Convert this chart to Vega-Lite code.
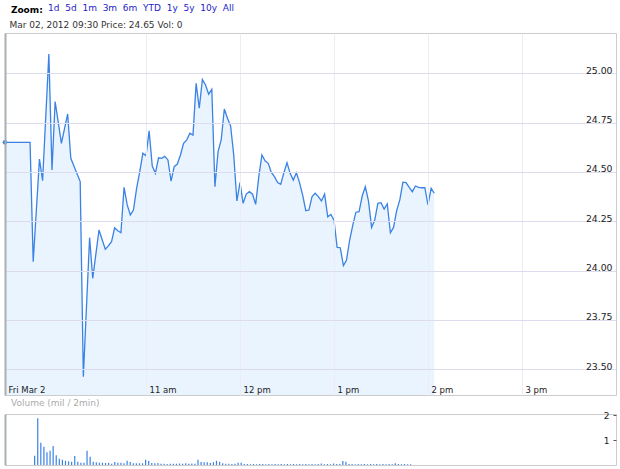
{
  "$schema": "https://vega.github.io/schema/vega-lite/v6.json",
  "padding": {"left": 1, "top": 3, "right": 4, "bottom": 4},
  "background": "#ffffff",
  "spacing": 2,
  "title": {
    "text": "Zoom:",
    "subtitle": "\u2060\u00a0\u00a0\u00a0\u00a0\u00a0\u00a0\u00a0\u00a0\u00a0\u00a0\u00a0\u00a0\u00a01d\u00a0\u00a05d\u00a0\u00a01m\u00a0\u00a03m\u00a0\u00a06m\u00a0\u00a0YTD\u00a0\u00a01y\u00a0\u00a05y\u00a0\u00a010y\u00a0\u00a0All",
    "anchor": "start",
    "dx": 9,
    "fontSize": 9,
    "fontWeight": "bold",
    "color": "#000000",
    "subtitleFontSize": 9,
    "subtitleFontWeight": "normal",
    "subtitleColor": "#2323c8",
    "subtitlePadding": -11,
    "offset": 4
  },
  "config": {
    "font": "DejaVu Sans",
    "view": {"stroke": "#cccccc"},
    "axis": {"labelFont": "DejaVu Sans", "titleFont": "DejaVu Sans"},
    "title": {"font": "DejaVu Sans", "subtitleFont": "DejaVu Sans"}
  },
  "vconcat": [
    {
      "width": 611,
      "height": 362,
      "title": {
        "text": "Mar 02, 2012 09:30 Price: 24.65 Vol: 0",
        "anchor": "start",
        "dx": 7,
        "fontSize": 9,
        "fontWeight": "normal",
        "color": "#333333",
        "offset": 3
      },
      "data": {
        "values": [
          {"t": "2012-03-02T09:30:00", "p": 24.65},
          {"t": "2012-03-02T09:46:00", "p": 24.65},
          {"t": "2012-03-02T09:48:00", "p": 24.045},
          {"t": "2012-03-02T09:52:00", "p": 24.565},
          {"t": "2012-03-02T09:54:00", "p": 24.456},
          {"t": "2012-03-02T09:58:00", "p": 25.098},
          {"t": "2012-03-02T10:00:00", "p": 24.51},
          {"t": "2012-03-02T10:02:00", "p": 24.856},
          {"t": "2012-03-02T10:06:00", "p": 24.645},
          {"t": "2012-03-02T10:10:00", "p": 24.794},
          {"t": "2012-03-02T10:12:00", "p": 24.569},
          {"t": "2012-03-02T10:18:00", "p": 24.451},
          {"t": "2012-03-02T10:20:00", "p": 23.462},
          {"t": "2012-03-02T10:24:00", "p": 24.167},
          {"t": "2012-03-02T10:26:00", "p": 23.961},
          {"t": "2012-03-02T10:30:00", "p": 24.206},
          {"t": "2012-03-02T10:34:00", "p": 24.108},
          {"t": "2012-03-02T10:36:00", "p": 24.125},
          {"t": "2012-03-02T10:38:00", "p": 24.147},
          {"t": "2012-03-02T10:40:00", "p": 24.217},
          {"t": "2012-03-02T10:42:00", "p": 24.202},
          {"t": "2012-03-02T10:44:00", "p": 24.192},
          {"t": "2012-03-02T10:46:00", "p": 24.422},
          {"t": "2012-03-02T10:48:00", "p": 24.333},
          {"t": "2012-03-02T10:50:00", "p": 24.282},
          {"t": "2012-03-02T10:52:00", "p": 24.307},
          {"t": "2012-03-02T10:54:00", "p": 24.417},
          {"t": "2012-03-02T10:56:00", "p": 24.501},
          {"t": "2012-03-02T10:58:00", "p": 24.595},
          {"t": "2012-03-02T11:00:00", "p": 24.582},
          {"t": "2012-03-02T11:02:00", "p": 24.708},
          {"t": "2012-03-02T11:04:00", "p": 24.53},
          {"t": "2012-03-02T11:06:00", "p": 24.493},
          {"t": "2012-03-02T11:08:00", "p": 24.572},
          {"t": "2012-03-02T11:10:00", "p": 24.569},
          {"t": "2012-03-02T11:12:00", "p": 24.579},
          {"t": "2012-03-02T11:14:00", "p": 24.561},
          {"t": "2012-03-02T11:16:00", "p": 24.453},
          {"t": "2012-03-02T11:18:00", "p": 24.527},
          {"t": "2012-03-02T11:20:00", "p": 24.54},
          {"t": "2012-03-02T11:22:00", "p": 24.586},
          {"t": "2012-03-02T11:24:00", "p": 24.645},
          {"t": "2012-03-02T11:26:00", "p": 24.662},
          {"t": "2012-03-02T11:28:00", "p": 24.696},
          {"t": "2012-03-02T11:30:00", "p": 24.687},
          {"t": "2012-03-02T11:32:00", "p": 24.949},
          {"t": "2012-03-02T11:34:00", "p": 24.823},
          {"t": "2012-03-02T11:36:00", "p": 24.968},
          {"t": "2012-03-02T11:38:00", "p": 24.941},
          {"t": "2012-03-02T11:40:00", "p": 24.894},
          {"t": "2012-03-02T11:42:00", "p": 24.919},
          {"t": "2012-03-02T11:44:00", "p": 24.425},
          {"t": "2012-03-02T11:46:00", "p": 24.603},
          {"t": "2012-03-02T11:48:00", "p": 24.662},
          {"t": "2012-03-02T11:50:00", "p": 24.819},
          {"t": "2012-03-02T11:52:00", "p": 24.772},
          {"t": "2012-03-02T11:54:00", "p": 24.733},
          {"t": "2012-03-02T11:56:00", "p": 24.586},
          {"t": "2012-03-02T11:58:00", "p": 24.353},
          {"t": "2012-03-02T12:00:00", "p": 24.446},
          {"t": "2012-03-02T12:02:00", "p": 24.341},
          {"t": "2012-03-02T12:04:00", "p": 24.388},
          {"t": "2012-03-02T12:06:00", "p": 24.4},
          {"t": "2012-03-02T12:08:00", "p": 24.387},
          {"t": "2012-03-02T12:10:00", "p": 24.336},
          {"t": "2012-03-02T12:12:00", "p": 24.476},
          {"t": "2012-03-02T12:14:00", "p": 24.586},
          {"t": "2012-03-02T12:16:00", "p": 24.557},
          {"t": "2012-03-02T12:18:00", "p": 24.544},
          {"t": "2012-03-02T12:20:00", "p": 24.498},
          {"t": "2012-03-02T12:22:00", "p": 24.476},
          {"t": "2012-03-02T12:24:00", "p": 24.446},
          {"t": "2012-03-02T12:26:00", "p": 24.437},
          {"t": "2012-03-02T12:28:00", "p": 24.496},
          {"t": "2012-03-02T12:30:00", "p": 24.547},
          {"t": "2012-03-02T12:32:00", "p": 24.493},
          {"t": "2012-03-02T12:34:00", "p": 24.459},
          {"t": "2012-03-02T12:36:00", "p": 24.496},
          {"t": "2012-03-02T12:38:00", "p": 24.446},
          {"t": "2012-03-02T12:40:00", "p": 24.383},
          {"t": "2012-03-02T12:42:00", "p": 24.304},
          {"t": "2012-03-02T12:44:00", "p": 24.307},
          {"t": "2012-03-02T12:46:00", "p": 24.375},
          {"t": "2012-03-02T12:48:00", "p": 24.392},
          {"t": "2012-03-02T12:50:00", "p": 24.375},
          {"t": "2012-03-02T12:52:00", "p": 24.353},
          {"t": "2012-03-02T12:54:00", "p": 24.388},
          {"t": "2012-03-02T12:56:00", "p": 24.273},
          {"t": "2012-03-02T12:58:00", "p": 24.285},
          {"t": "2012-03-02T13:00:00", "p": 24.256},
          {"t": "2012-03-02T13:02:00", "p": 24.118},
          {"t": "2012-03-02T13:04:00", "p": 24.116},
          {"t": "2012-03-02T13:06:00", "p": 24.025},
          {"t": "2012-03-02T13:08:00", "p": 24.054},
          {"t": "2012-03-02T13:10:00", "p": 24.155},
          {"t": "2012-03-02T13:12:00", "p": 24.231},
          {"t": "2012-03-02T13:14:00", "p": 24.296},
          {"t": "2012-03-02T13:16:00", "p": 24.299},
          {"t": "2012-03-02T13:18:00", "p": 24.378},
          {"t": "2012-03-02T13:20:00", "p": 24.425},
          {"t": "2012-03-02T13:22:00", "p": 24.353},
          {"t": "2012-03-02T13:24:00", "p": 24.219},
          {"t": "2012-03-02T13:26:00", "p": 24.256},
          {"t": "2012-03-02T13:28:00", "p": 24.341},
          {"t": "2012-03-02T13:30:00", "p": 24.344},
          {"t": "2012-03-02T13:32:00", "p": 24.312},
          {"t": "2012-03-02T13:34:00", "p": 24.338},
          {"t": "2012-03-02T13:36:00", "p": 24.192},
          {"t": "2012-03-02T13:38:00", "p": 24.219},
          {"t": "2012-03-02T13:40:00", "p": 24.304},
          {"t": "2012-03-02T13:42:00", "p": 24.358},
          {"t": "2012-03-02T13:44:00", "p": 24.448},
          {"t": "2012-03-02T13:46:00", "p": 24.446},
          {"t": "2012-03-02T13:48:00", "p": 24.422},
          {"t": "2012-03-02T13:50:00", "p": 24.4},
          {"t": "2012-03-02T13:52:00", "p": 24.429},
          {"t": "2012-03-02T13:54:00", "p": 24.422},
          {"t": "2012-03-02T13:56:00", "p": 24.42},
          {"t": "2012-03-02T13:58:00", "p": 24.42},
          {"t": "2012-03-02T14:00:00", "p": 24.333},
          {"t": "2012-03-02T14:02:00", "p": 24.417},
          {"t": "2012-03-02T14:04:00", "p": 24.392}
        ],
        "format": {"parse": {"t": "date"}}
      },
      "resolve": {"axis": {"y": "independent"}},
      "layer": [
        {
          "mark": {"type": "area", "color": "#eaf4fe", "opacity": 1, "clip": true},
          "encoding": {
            "x": {
              "field": "t", "type": "temporal",
              "scale": {"domain": [
                {"year": 2012, "month": 3, "date": 2, "hours": 9, "minutes": 30},
                {"year": 2012, "month": 3, "date": 2, "hours": 16, "minutes": 0}
              ]},
              "axis": {
                "title": null,
                "orient": "bottom",
                "zindex": 1,
                "values": [
                  {"year": 2012, "month": 3, "date": 2, "hours": 9, "minutes": 30},
                  {"year": 2012, "month": 3, "date": 2, "hours": 11},
                  {"year": 2012, "month": 3, "date": 2, "hours": 12},
                  {"year": 2012, "month": 3, "date": 2, "hours": 13},
                  {"year": 2012, "month": 3, "date": 2, "hours": 14},
                  {"year": 2012, "month": 3, "date": 2, "hours": 15}
                ],
                "labelExpr": "hours(datum.value) == 9 ? 'Fri Mar 2' : ((hours(datum.value) % 12 == 0 ? 12 : hours(datum.value) % 12) + (hours(datum.value) < 12 ? ' am' : ' pm'))",
                "labelAlign": "left",
                "labelBaseline": "alphabetic",
                "labelPadding": -3,
                "labelOffset": 3,
                "labelFontSize": 8.5,
                "labelColor": "#222222",
                "labelFlush": false,
                "labelOverlap": false,
                "ticks": false,
                "domain": false,
                "grid": true,
                "gridColor": "#ececf2",
                "gridOpacity": {"condition": {"test": "hours(datum.value) == 9", "value": 0}, "value": 1}
              }
            },
            "y": {
              "field": "p", "type": "quantitative",
              "scale": {"domain": [23.3695, 25.2043], "nice": false, "zero": false},
              "axis": {
                "orient": "left", "title": null, "labels": false, "ticks": false, "grid": false,
                "zindex": 2,
                "domain": true, "domainColor": "#a9b0b0", "domainWidth": 2
              }
            }
          }
        },
        {
          "mark": {"type": "line", "color": "#3a82e4", "strokeWidth": 1.3},
          "encoding": {
            "x": {"field": "t", "type": "temporal"},
            "y": {
              "field": "p", "type": "quantitative",
              "axis": {
                "orient": "right", "title": null, "zindex": 1,
                "values": [23.5, 23.75, 24, 24.25, 24.5, 24.75, 25],
                "format": ".2f",
                "labelAlign": "right",
                "labelBaseline": "alphabetic",
                "labelPadding": -4,
                "labelDy": -1,
                "labelFontSize": 9.3,
                "labelColor": "#222222",
                "ticks": false,
                "domain": false,
                "grid": true,
                "gridColor": "#dcdcee"
              }
            }
          }
        },
        {
          "transform": [{"filter": "hours(datum.t) == 9 && minutes(datum.t) == 30"}],
          "mark": {"type": "point", "filled": true, "color": "#3a82e4", "size": 22, "opacity": 1},
          "encoding": {
            "x": {"field": "t", "type": "temporal"},
            "y": {"field": "p", "type": "quantitative", "axis": null}
          }
        }
      ]
    },
    {
      "width": 611,
      "height": 51,
      "title": {
        "text": "Volume (mil / 2min)",
        "anchor": "start",
        "dx": 6,
        "fontSize": 9,
        "fontWeight": "normal",
        "color": "#aaaaaa",
        "offset": 3
      },
      "data": {
        "values": [
          {"t": "2012-03-02T09:46:00", "v": 0.37},
          {"t": "2012-03-02T09:48:00", "v": 1.87},
          {"t": "2012-03-02T09:50:00", "v": 0.89},
          {"t": "2012-03-02T09:52:00", "v": 0.73},
          {"t": "2012-03-02T09:54:00", "v": 0.51},
          {"t": "2012-03-02T09:56:00", "v": 0.57},
          {"t": "2012-03-02T09:58:00", "v": 0.76},
          {"t": "2012-03-02T10:00:00", "v": 0.39},
          {"t": "2012-03-02T10:02:00", "v": 0.25},
          {"t": "2012-03-02T10:04:00", "v": 0.21},
          {"t": "2012-03-02T10:06:00", "v": 0.17},
          {"t": "2012-03-02T10:08:00", "v": 0.15},
          {"t": "2012-03-02T10:10:00", "v": 0.13},
          {"t": "2012-03-02T10:12:00", "v": 0.36},
          {"t": "2012-03-02T10:14:00", "v": 0.13},
          {"t": "2012-03-02T10:16:00", "v": 0.09},
          {"t": "2012-03-02T10:18:00", "v": 0.09},
          {"t": "2012-03-02T10:20:00", "v": 0.57},
          {"t": "2012-03-02T10:22:00", "v": 0.33},
          {"t": "2012-03-02T10:24:00", "v": 0.13},
          {"t": "2012-03-02T10:26:00", "v": 0.11},
          {"t": "2012-03-02T10:28:00", "v": 0.09},
          {"t": "2012-03-02T10:30:00", "v": 0.09},
          {"t": "2012-03-02T10:32:00", "v": 0.08},
          {"t": "2012-03-02T10:34:00", "v": 0.09},
          {"t": "2012-03-02T10:36:00", "v": 0.05},
          {"t": "2012-03-02T10:38:00", "v": 0.12},
          {"t": "2012-03-02T10:40:00", "v": 0.09},
          {"t": "2012-03-02T10:42:00", "v": 0.09},
          {"t": "2012-03-02T10:44:00", "v": 0.07},
          {"t": "2012-03-02T10:46:00", "v": 0.17},
          {"t": "2012-03-02T10:48:00", "v": 0.12},
          {"t": "2012-03-02T10:50:00", "v": 0.07},
          {"t": "2012-03-02T10:52:00", "v": 0.07},
          {"t": "2012-03-02T10:54:00", "v": 0.07},
          {"t": "2012-03-02T10:56:00", "v": 0.07},
          {"t": "2012-03-02T10:58:00", "v": 0.21},
          {"t": "2012-03-02T11:00:00", "v": 0.16},
          {"t": "2012-03-02T11:02:00", "v": 0.08},
          {"t": "2012-03-02T11:04:00", "v": 0.07},
          {"t": "2012-03-02T11:06:00", "v": 0.08},
          {"t": "2012-03-02T11:08:00", "v": 0.05},
          {"t": "2012-03-02T11:10:00", "v": 0.05},
          {"t": "2012-03-02T11:12:00", "v": 0.04},
          {"t": "2012-03-02T11:14:00", "v": 0.05},
          {"t": "2012-03-02T11:16:00", "v": 0.05},
          {"t": "2012-03-02T11:18:00", "v": 0.05},
          {"t": "2012-03-02T11:20:00", "v": 0.06},
          {"t": "2012-03-02T11:22:00", "v": 0.05},
          {"t": "2012-03-02T11:24:00", "v": 0.07},
          {"t": "2012-03-02T11:26:00", "v": 0.05},
          {"t": "2012-03-02T11:28:00", "v": 0.06},
          {"t": "2012-03-02T11:30:00", "v": 0.05},
          {"t": "2012-03-02T11:32:00", "v": 0.21},
          {"t": "2012-03-02T11:34:00", "v": 0.12},
          {"t": "2012-03-02T11:36:00", "v": 0.11},
          {"t": "2012-03-02T11:38:00", "v": 0.11},
          {"t": "2012-03-02T11:40:00", "v": 0.08},
          {"t": "2012-03-02T11:42:00", "v": 0.11},
          {"t": "2012-03-02T11:44:00", "v": 0.17},
          {"t": "2012-03-02T11:46:00", "v": 0.13},
          {"t": "2012-03-02T11:48:00", "v": 0.07},
          {"t": "2012-03-02T11:50:00", "v": 0.05},
          {"t": "2012-03-02T11:52:00", "v": 0.05},
          {"t": "2012-03-02T11:54:00", "v": 0.04},
          {"t": "2012-03-02T11:56:00", "v": 0.05},
          {"t": "2012-03-02T11:58:00", "v": 0.09},
          {"t": "2012-03-02T12:00:00", "v": 0.09},
          {"t": "2012-03-02T12:02:00", "v": 0.04},
          {"t": "2012-03-02T12:04:00", "v": 0.04},
          {"t": "2012-03-02T12:06:00", "v": 0.03},
          {"t": "2012-03-02T12:08:00", "v": 0.04},
          {"t": "2012-03-02T12:10:00", "v": 0.03},
          {"t": "2012-03-02T12:12:00", "v": 0.04},
          {"t": "2012-03-02T12:14:00", "v": 0.04},
          {"t": "2012-03-02T12:16:00", "v": 0.03},
          {"t": "2012-03-02T12:18:00", "v": 0.04},
          {"t": "2012-03-02T12:20:00", "v": 0.03},
          {"t": "2012-03-02T12:22:00", "v": 0.04},
          {"t": "2012-03-02T12:24:00", "v": 0.03},
          {"t": "2012-03-02T12:26:00", "v": 0.04},
          {"t": "2012-03-02T12:28:00", "v": 0.03},
          {"t": "2012-03-02T12:30:00", "v": 0.04},
          {"t": "2012-03-02T12:32:00", "v": 0.03},
          {"t": "2012-03-02T12:34:00", "v": 0.04},
          {"t": "2012-03-02T12:36:00", "v": 0.03},
          {"t": "2012-03-02T12:38:00", "v": 0.04},
          {"t": "2012-03-02T12:40:00", "v": 0.03},
          {"t": "2012-03-02T12:42:00", "v": 0.04},
          {"t": "2012-03-02T12:44:00", "v": 0.03},
          {"t": "2012-03-02T12:46:00", "v": 0.04},
          {"t": "2012-03-02T12:48:00", "v": 0.03},
          {"t": "2012-03-02T12:50:00", "v": 0.04},
          {"t": "2012-03-02T12:52:00", "v": 0.06},
          {"t": "2012-03-02T12:54:00", "v": 0.03},
          {"t": "2012-03-02T12:56:00", "v": 0.04},
          {"t": "2012-03-02T12:58:00", "v": 0.03},
          {"t": "2012-03-02T13:00:00", "v": 0.06},
          {"t": "2012-03-02T13:02:00", "v": 0.04},
          {"t": "2012-03-02T13:04:00", "v": 0.04},
          {"t": "2012-03-02T13:06:00", "v": 0.16},
          {"t": "2012-03-02T13:08:00", "v": 0.13},
          {"t": "2012-03-02T13:10:00", "v": 0.04},
          {"t": "2012-03-02T13:12:00", "v": 0.04},
          {"t": "2012-03-02T13:14:00", "v": 0.03},
          {"t": "2012-03-02T13:16:00", "v": 0.04},
          {"t": "2012-03-02T13:18:00", "v": 0.03},
          {"t": "2012-03-02T13:20:00", "v": 0.04},
          {"t": "2012-03-02T13:22:00", "v": 0.03},
          {"t": "2012-03-02T13:24:00", "v": 0.04},
          {"t": "2012-03-02T13:26:00", "v": 0.03},
          {"t": "2012-03-02T13:28:00", "v": 0.04},
          {"t": "2012-03-02T13:30:00", "v": 0.03},
          {"t": "2012-03-02T13:32:00", "v": 0.04},
          {"t": "2012-03-02T13:34:00", "v": 0.03},
          {"t": "2012-03-02T13:36:00", "v": 0.04},
          {"t": "2012-03-02T13:38:00", "v": 0.03},
          {"t": "2012-03-02T13:40:00", "v": 0.07},
          {"t": "2012-03-02T13:42:00", "v": 0.04},
          {"t": "2012-03-02T13:44:00", "v": 0.03},
          {"t": "2012-03-02T13:46:00", "v": 0.04},
          {"t": "2012-03-02T13:48:00", "v": 0.03},
          {"t": "2012-03-02T13:50:00", "v": 0.03}
        ],
        "format": {"parse": {"t": "date"}}
      },
      "resolve": {"axis": {"y": "independent"}},
      "layer": [
        {
          "mark": {"type": "bar", "color": "#3a82e4", "size": 1.2, "opacity": 0},
          "encoding": {
            "x": {
              "field": "t", "type": "temporal", "axis": null,
              "scale": {"domain": [
                {"year": 2012, "month": 3, "date": 2, "hours": 9, "minutes": 30},
                {"year": 2012, "month": 3, "date": 2, "hours": 16, "minutes": 0}
              ]}
            },
            "y": {
              "field": "v", "type": "quantitative",
              "scale": {"domain": [0, 2.04], "nice": false},
              "axis": {
                "orient": "left", "title": null, "labels": false, "ticks": false, "grid": false,
                "zindex": 2,
                "domain": true, "domainColor": "#a9b0b0", "domainWidth": 2
              }
            }
          }
        },
        {
          "mark": {"type": "bar", "color": "#3a82e4", "size": 1.2},
          "encoding": {
            "x": {"field": "t", "type": "temporal"},
            "y": {
              "field": "v", "type": "quantitative",
              "axis": {
                "orient": "right", "title": null,
                "values": [1, 2],
                "format": "d",
                "labelAlign": "right",
                "labelBaseline": "middle",
                "labelPadding": -4,
                "labelFontSize": 9,
                "labelColor": "#222222",
                "ticks": true,
                "tickSize": -3,
                "tickColor": "#555555",
                "domain": false,
                "grid": false
              }
            }
          }
        }
      ]
    }
  ]
}
